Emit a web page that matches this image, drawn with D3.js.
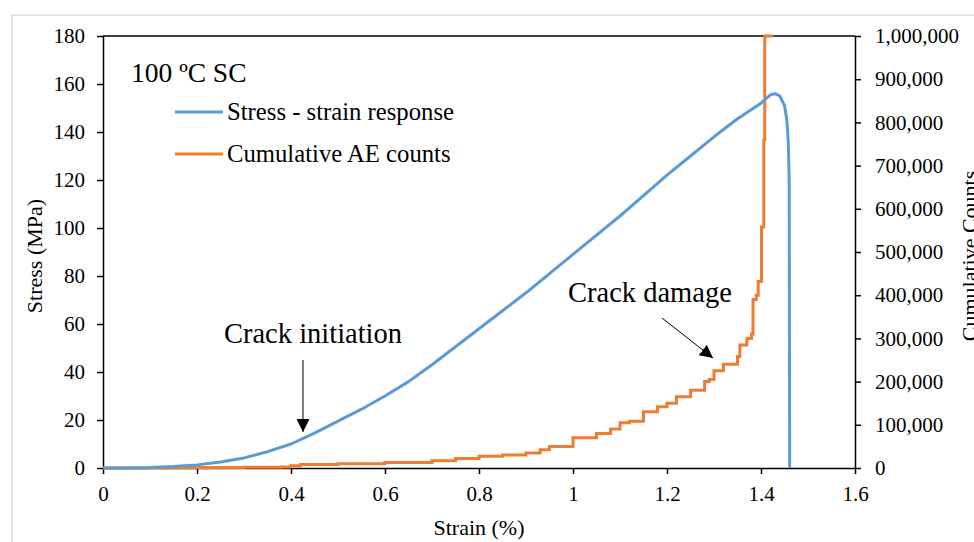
<!DOCTYPE html>
<html>
<head>
<meta charset="utf-8">
<script src="https://cdn.jsdelivr.net/npm/d3@7"></script>
<style>
  body { margin: 0; background: #fff; }
  svg { display: block; font-family: "Liberation Serif", "Times New Roman", serif; }
</style>
</head>
<body>
<script>
// stress - strain response (blue)
var stressStrain = [0, 0.05, 0.1, 0.15, 0.2, 0.25, 0.3, 0.35, 0.4, 0.45, 0.5, 0.55, 0.6, 0.65, 0.7, 0.75,
    0.8, 0.85, 0.9, 0.95, 1.0, 1.05, 1.1, 1.15, 1.2, 1.25, 1.3, 1.35, 1.4, 1.42, 1.43, 1.44, 1.45,
    1.455, 1.458, 1.46, 1.461]
var stressValues = [0, 0.05, 0.2, 0.6, 1.3, 2.5, 4.2, 6.8, 10, 14.5, 19.5, 24.5, 30, 36, 43, 50.5,
    58, 65.5, 73, 81, 89, 97, 105, 113.5, 122, 130, 138, 145.5, 152, 155.5, 156, 155, 151,
    145, 136, 120, 0]

// cumulative AE counts (orange), step data
var aeStrain = [0, 0.1, 0.2, 0.3, 0.38, 0.4, 0.42, 0.5, 0.6, 0.7, 0.75, 0.8, 0.85, 0.9, 0.93, 0.95,
    1.0, 1.05, 1.08, 1.1, 1.12, 1.15, 1.18, 1.2, 1.22, 1.25, 1.28, 1.29, 1.3, 1.32, 1.35, 1.355,
    1.37, 1.38, 1.383, 1.39, 1.394, 1.401, 1.406, 1.408, 1.426]
var aeCounts = [0, 500, 1000, 1500, 2500, 5000, 8000, 10000, 13000, 17000, 22000, 27000, 30000, 35000, 42000, 50000,
    70000, 80000, 90000, 105000, 108000, 130000, 142000, 150000, 165000, 180000, 200000, 205000, 225000, 240000, 258000, 285000,
    300000, 310000, 390000, 400000, 432000, 558000, 760000, 1000000, 1000000]

var strainTicks = [0, 0.2, 0.4, 0.6, 0.8, 1, 1.2, 1.4, 1.6]
var stressTicks = [0, 20, 40, 60, 80, 100, 120, 140, 160, 180]
var countTicks = [0, 100000, 200000, 300000, 400000, 500000, 600000, 700000, 800000, 900000, 1000000]

var svg = d3.select("body").append("svg")
    .attr("width", 974)
    .attr("height", 542)

// chart area frame
svg.append("rect")
    .attr("x", 12).attr("y", 15)
    .attr("width", 1000).attr("height", 600)
    .attr("fill", "#fff")
    .attr("stroke", "#d9d9d9")
    .attr("stroke-width", 1.5)

var x = d3.scaleLinear().domain([0, 1.6]).range([103, 855])
var y = d3.scaleLinear().domain([0, 180]).range([468, 36])
var y2 = d3.scaleLinear().domain([0, 1000000]).range([468, 36])

// top border of plot
svg.append("line")
    .attr("x1", x(0)).attr("x2", x(1.6))
    .attr("y1", y(180)).attr("y2", y(180))
    .attr("stroke", "#000").attr("stroke-width", 1.5)

var xAxis = svg.append("g")
    .attr("transform", "translate(0," + y(0) + ")")
    .call(d3.axisBottom(x).tickValues(strainTicks).tickFormat(d3.format("")).tickSize(6).tickSizeOuter(0).tickPadding(12))
var yAxis = svg.append("g")
    .attr("transform", "translate(" + x(0) + ",0)")
    .call(d3.axisLeft(y).tickValues(stressTicks).tickSize(6).tickSizeOuter(0).tickPadding(12))
var y2Axis = svg.append("g")
    .attr("transform", "translate(" + x(1.6) + ",0)")
    .call(d3.axisRight(y2).tickValues(countTicks).tickFormat(d3.format(",")).tickSize(6).tickSizeOuter(0).tickPadding(14))

svg.selectAll(".domain").attr("stroke", "#000").attr("stroke-width", 1.5)
svg.selectAll(".tick line").attr("stroke", "#000").attr("stroke-width", 1.5)
svg.selectAll(".tick text")
    .attr("font-family", "Liberation Serif, Times New Roman, serif")
    .attr("font-size", 21)
    .attr("fill", "#000")

// lines
var stressData = stressStrain.map(function (s, i) { return [s, stressValues[i]] })
var aeData = aeStrain.map(function (s, i) { return [s, aeCounts[i]] })

svg.append("path")
    .datum(aeData)
    .attr("fill", "none")
    .attr("stroke", "#ED7D31")
    .attr("stroke-width", 3)
    .attr("d", d3.line().curve(d3.curveStepAfter)
        .x(function (d) { return x(d[0]) })
        .y(function (d) { return y2(d[1]) }))

svg.append("path")
    .datum(stressData)
    .attr("fill", "none")
    .attr("stroke", "#5B9BD5")
    .attr("stroke-width", 3)
    .attr("stroke-linejoin", "round")
    .attr("d", d3.line()
        .x(function (d) { return x(d[0]) })
        .y(function (d) { return y(d[1]) }))

// axis titles
svg.append("text")
    .attr("x", 479).attr("y", 535)
    .attr("text-anchor", "middle")
    .attr("font-size", 22)
    .text("Strain (%)")
svg.append("text")
    .attr("transform", "translate(42,256) rotate(-90)")
    .attr("text-anchor", "middle")
    .attr("font-size", 22)
    .text("Stress (MPa)")
svg.append("text")
    .attr("transform", "translate(977,256) rotate(-90)")
    .attr("text-anchor", "middle")
    .attr("font-size", 22)
    .text("Cumulative Counts")

// title and legend
svg.append("text")
    .attr("x", 131).attr("y", 82)
    .attr("font-size", 27.5)
    .text("100 ºC SC")

var legend = [
    { name: "Stress - strain response", color: "#5B9BD5", y: 112 },
    { name: "Cumulative AE counts", color: "#ED7D31", y: 154 }
]
legend.forEach(function (d) {
    svg.append("line")
        .attr("x1", 175).attr("x2", 223)
        .attr("y1", d.y).attr("y2", d.y)
        .attr("stroke", d.color).attr("stroke-width", 3)
    svg.append("text")
        .attr("x", 227).attr("y", d.y + 8)
        .attr("font-size", 24.7)
        .text(d.name)
})

// annotations
var defs = svg.append("defs")
defs.append("marker")
    .attr("id", "arrow")
    .attr("viewBox", "0 0 10 10")
    .attr("refX", 10).attr("refY", 5)
    .attr("markerWidth", 13).attr("markerHeight", 13)
    .attr("markerUnits", "userSpaceOnUse")
    .attr("orient", "auto")
    .append("path")
    .attr("d", "M0,0 L10,5 L0,10 Z")
    .attr("fill", "#000")

svg.append("text")
    .attr("x", 313).attr("y", 343)
    .attr("text-anchor", "middle")
    .attr("font-size", 28.5)
    .text("Crack initiation")
svg.append("line")
    .attr("x1", 303).attr("y1", 360)
    .attr("x2", 303).attr("y2", 432)
    .attr("stroke", "#000").attr("stroke-width", 1)
    .attr("marker-end", "url(#arrow)")

svg.append("text")
    .attr("x", 568).attr("y", 302)
    .attr("font-size", 28.5)
    .text("Crack damage")
svg.append("line")
    .attr("x1", 662).attr("y1", 318)
    .attr("x2", 713).attr("y2", 358)
    .attr("stroke", "#000").attr("stroke-width", 1)
    .attr("marker-end", "url(#arrow)")
</script>
</body>
</html>
